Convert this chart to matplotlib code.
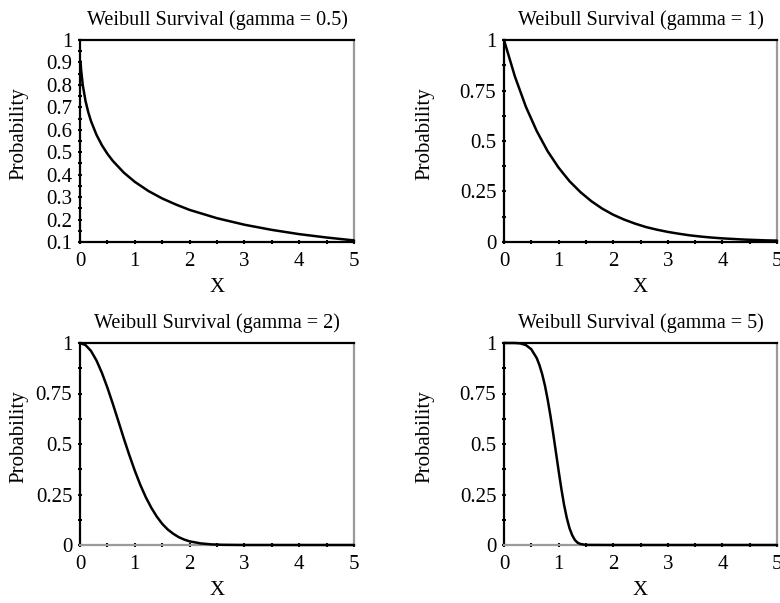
import matplotlib
matplotlib.use("Agg")
import matplotlib.pyplot as plt
from matplotlib.ticker import MultipleLocator

plt.rcParams['font.family'] = ['Liberation Serif', 'DejaVu Serif']

# ---- data ----
titles = ["Weibull Survival (gamma = 0.5)", "Weibull Survival (gamma = 1)",
          "Weibull Survival (gamma = 2)", "Weibull Survival (gamma = 5)"]

x_g05 = [0.01, 0.02, 0.05, 0.1, 0.15, 0.2, 0.3, 0.4, 0.5, 0.6, 0.8, 1.0, 1.25,
         1.5, 1.75, 2.0, 2.5, 3.0, 3.5, 4.0, 4.5, 5.0]
y_g05 = [0.905, 0.868, 0.800, 0.729, 0.679, 0.639, 0.578, 0.531, 0.493, 0.461,
         0.409, 0.368, 0.327, 0.294, 0.267, 0.243, 0.206, 0.177, 0.154, 0.135,
         0.120, 0.107]

x_g1 = [0.0, 0.2, 0.4, 0.6, 0.8, 1.0, 1.2, 1.4, 1.6, 1.8, 2.0, 2.2, 2.4, 2.6,
        2.8, 3.0, 3.2, 3.4, 3.6, 3.8, 4.0, 4.2, 4.4, 4.6, 4.8, 5.0]
y_g1 = [1.0, 0.819, 0.670, 0.549, 0.449, 0.368, 0.301, 0.247, 0.202, 0.165,
        0.135, 0.111, 0.091, 0.074, 0.061, 0.050, 0.041, 0.033, 0.027, 0.022,
        0.018, 0.015, 0.012, 0.010, 0.008, 0.007]

x_g2 = [0.0, 0.1, 0.2, 0.3, 0.4, 0.5, 0.6, 0.7, 0.8, 0.9, 1.0, 1.1, 1.2, 1.3,
        1.4, 1.5, 1.6, 1.7, 1.8, 1.9, 2.0, 2.2, 2.4, 2.6, 3.0, 4.0, 5.0]
y_g2 = [1.0, 0.990, 0.961, 0.914, 0.852, 0.779, 0.698, 0.613, 0.527, 0.445,
        0.368, 0.298, 0.237, 0.185, 0.141, 0.105, 0.077, 0.056, 0.039, 0.027,
        0.018, 0.008, 0.003, 0.001, 0.0, 0.0, 0.0]

x_g5 = [0.0, 0.2, 0.3, 0.4, 0.5, 0.6, 0.65, 0.7, 0.75, 0.8, 0.85, 0.9, 0.95,
        1.0, 1.05, 1.1, 1.15, 1.2, 1.25, 1.3, 1.35, 1.4, 1.5, 2.0, 3.0, 4.0, 5.0]
y_g5 = [1.0, 1.0, 0.998, 0.990, 0.969, 0.925, 0.890, 0.845, 0.789, 0.720,
        0.641, 0.554, 0.461, 0.368, 0.279, 0.199, 0.134, 0.083, 0.048, 0.024,
        0.011, 0.005, 0.0005, 0.0, 0.0, 0.0, 0.0]

x_ticks = [0, 1, 2, 3, 4, 5]
y_ticks_a = [0.1, 0.2, 0.3, 0.4, 0.5, 0.6, 0.7, 0.8, 0.9, 1.0]
y_labels_a = ["0.1", "0.2", "0.3", "0.4", "0.5", "0.6", "0.7", "0.8", "0.9", "1"]
y_ticks_b = [0, 0.25, 0.5, 0.75, 1.0]
y_labels_b = ["0", "0.25", "0.5", "0.75", "1"]

series = [(x_g05, y_g05), (x_g1, y_g1), (x_g2, y_g2), (x_g5, y_g5)]

W, H = 780, 603
fig = plt.figure(figsize=(W / 100, H / 100), dpi=100)

# axes boxes in pixels: left, right, top, bottom
boxes = [(80, 354, 40, 242), (504, 777, 40, 242),
         (80, 354, 343, 545), (504, 777, 343, 545)]
ylabel_px = [19, 425, 19, 425]

for i, ((l, r, t, b), (xs, ys), title) in enumerate(zip(boxes, series, titles)):
    ax = fig.add_axes([l / W, 1 - b / H, (r - l) / W, (b - t) / H])
    ax.plot(xs, ys, color='black', lw=1.8, solid_capstyle='round', zorder=3,
            clip_on=False)
    ax.set_xlim(0, 5)
    if i == 0:
        ax.set_ylim(0.1, 1.0)
        ax.set_yticks(y_ticks_a)
        ax.set_yticklabels(y_labels_a)
        ax.yaxis.set_minor_locator(MultipleLocator(0.05))
    else:
        ax.set_ylim(0, 1.0)
        ax.set_yticks(y_ticks_b)
        ax.set_yticklabels(y_labels_b)
        ax.yaxis.set_minor_locator(MultipleLocator(0.125))
    ax.set_xticks(x_ticks)
    ax.set_xticklabels([str(v) for v in x_ticks])
    ax.xaxis.set_minor_locator(MultipleLocator(0.5))

    for s in ['left', 'top']:
        ax.spines[s].set_color('black')
        ax.spines[s].set_linewidth(1.6)
    ax.spines['right'].set_color('#9a9a9a')
    ax.spines['right'].set_linewidth(1.6)
    ax.spines['bottom'].set_linewidth(1.6)
    ax.spines['bottom'].set_color('black' if i < 2 else '#9a9a9a')

    ax.tick_params(which='major', direction='inout', length=3, width=1.5,
                   labelsize=15, colors='black')
    ax.tick_params(which='minor', direction='inout', length=3, width=1.5,
                   colors='black')
    ax.tick_params(axis='y', pad=4)
    ax.tick_params(axis='x', pad=6)

    ax.set_title(title, fontsize=14.5, pad=11)
    ax.set_xlabel("X", fontsize=15, labelpad=5)
    ax.set_ylabel("Probability", fontsize=15)
    ax.yaxis.set_label_coords((ylabel_px[i] - l) / (r - l), 0.535)
    ax.yaxis.label.set_va('center')

fig.savefig("out.png", dpi=100)
